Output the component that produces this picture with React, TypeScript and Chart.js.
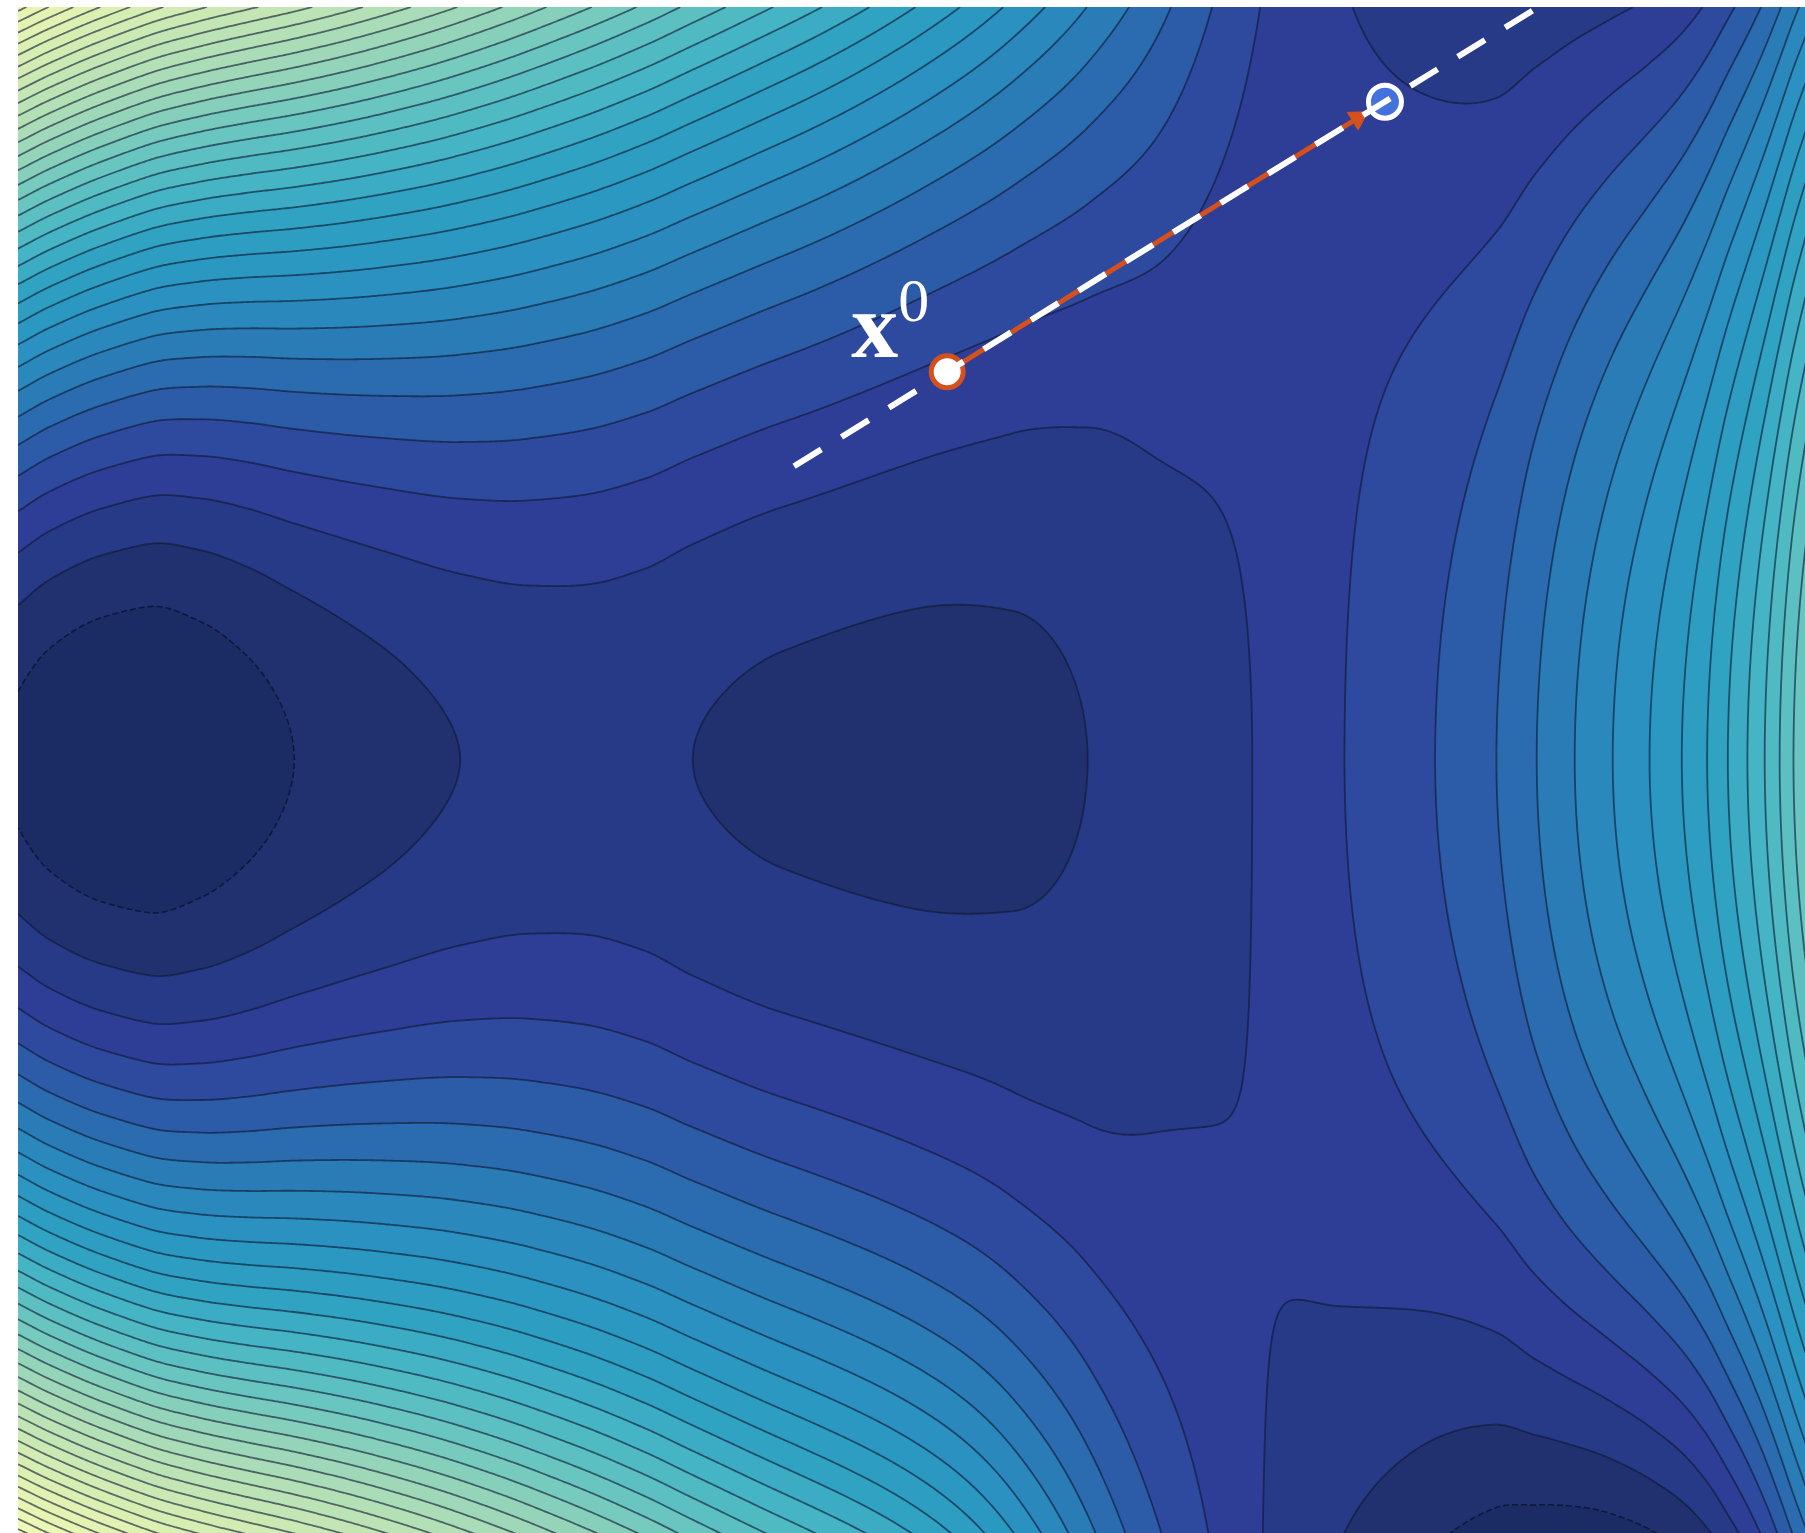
import { useEffect, useRef } from 'react';
import { Chart, registerables } from 'chart.js';

Chart.register(...registerables);

// ---------------- values ----------------
// plot coordinates are the picture's own x / y units (y grows downwards)
const X_MIN = 16;
const X_MAX = 1568;
const Y_MIN = 6;
const Y_MAX = 1332;
const VALLEY_Y = 660;
const DEPTH_UNIT = 400;

// surface level along the valley axis (y = 660)
const axisX = [16, 43, 90, 130, 174, 215, 256, 330, 400, 460, 510, 560, 602, 680, 800, 880, 945, 1010, 1088, 1160, 1250, 1300, 1335, 1368, 1401, 1433, 1461, 1483, 1501, 1518, 1533, 1546, 1558, 1568];
const axisLevel = [-1.24, -1.61, -1.93, -2.0, -1.76, -1.4, -1.0, -0.42, 0.0, 0.2, 0.25, 0.17, 0.0, -0.22, -0.33, -0.25, 0.0, 0.48, 1.0, 1.9, 3.05, 4.0, 5.0, 6.0, 7.0, 8.0, 9.0, 10.0, 11.0, 12.0, 13.0, 14.0, 15.0, 15.8];

// rise of the surface above the axis (upper half): quadratic and quartic weights
const upperX = [16, 135, 300, 500, 700, 850, 950, 1050, 1150, 1250, 1350, 1450, 1568];
const upperQuad = [11, 8.9, 7.0, 5.2, 3.8, 2.6, 1.8, 0.8, -0.2, -1.1, -2.2, -3.1, -3.95];
const upperQuart = [0.45, 0.62, 0.6, 0.45, 0.34, 0.27, 0.14, 0.03, 0.0, 0.05, 0.13, 0.15, 0.15];

// rise of the surface below the axis (lower half)
const lowerX = [16, 135, 300, 500, 700, 850, 950, 1000, 1050, 1100, 1150, 1215, 1300, 1390, 1450, 1500, 1568];
const lowerQuad = [11, 8.9, 7.0, 5.2, 3.8, 2.6, 1.45, 0.87, 0.42, -0.06, -0.55, -1.1, -2.0, -3.2, -3.85, -4.25, -4.45];
const lowerQuart = [0.45, 0.62, 0.6, 0.45, 0.34, 0.27, 0.12, 0.05, 0.01, 0.0, 0.0, 0.0, 0.04, 0.12, 0.18, 0.2, 0.2];

const contourLevels = [-3, -2, -1, 0, 1, 2, 3, 4, 5, 6, 7, 8, 9, 10, 11, 12, 13, 14, 15, 16, 17, 18, 19, 20, 21, 22, 23, 24, 25, 26, 27, 28, 29, 30, 31, 32, 33, 34, 35, 36, 37, 38, 39, 40];

const rampLevel = [-2, -1.5, -0.5, 0.5, 1.5, 2.5, 4, 6, 8, 10.5, 12, 13.5, 15, 18.5, 21, 25, 28, 30.5, 33];
const rampColor = ['#1a2a60', '#1b2b63', '#21316f', '#263a88', '#2e3d96', '#2d4a9f', '#2b64ac', '#2a84bb', '#2a95c1', '#30a3c3', '#40b1c4', '#50bac3', '#62c2c1', '#94d4b9', '#b0deb6', '#cfebb3', '#dff1b2', '#e8f5b2', '#f2f9bb'];

// search direction, step, points
const searchLineX = [690, 1336.5];
const searchLineY = [405, 6];
const stepX = [823, 1179.6];
const stepY = [323, 102.5];
const startX = [823];
const startY = [323];
const nextX = [1203.2];
const nextY = [88.3];
const arrowX = [1179.6];
const arrowY = [102.5];
const labelBase = 'x';
const labelSup = '0';

// ---------------- helpers ----------------
function pchip(xs: number[], ys: number[]) {
  const n = xs.length;
  const h: number[] = [];
  const del: number[] = [];
  for (let i = 0; i < n - 1; i++) {
    h.push(xs[i + 1] - xs[i]);
    del.push((ys[i + 1] - ys[i]) / h[i]);
  }
  const m: number[] = new Array(n).fill(0);
  m[0] = del[0];
  m[n - 1] = del[n - 2];
  for (let i = 1; i < n - 1; i++) {
    if (del[i - 1] * del[i] <= 0) m[i] = 0;
    else {
      const w1 = 2 * h[i] + h[i - 1];
      const w2 = h[i] + 2 * h[i - 1];
      m[i] = (w1 + w2) / (w1 / del[i - 1] + w2 / del[i]);
    }
  }
  return (x: number) => {
    if (x <= xs[0]) return ys[0] + m[0] * (x - xs[0]);
    if (x >= xs[n - 1]) return ys[n - 1] + m[n - 1] * (x - xs[n - 1]);
    let lo = 0;
    let hi = n - 1;
    while (hi - lo > 1) {
      const mid = (lo + hi) >> 1;
      if (xs[mid] <= x) lo = mid;
      else hi = mid;
    }
    const t = (x - xs[lo]) / h[lo];
    const t2 = t * t;
    const t3 = t2 * t;
    return (2 * t3 - 3 * t2 + 1) * ys[lo] + (t3 - 2 * t2 + t) * h[lo] * m[lo] + (-2 * t3 + 3 * t2) * ys[lo + 1] + (t3 - t2) * h[lo] * m[lo + 1];
  };
}

function naturalSpline(xs: number[], ys: number[]) {
  const n = xs.length;
  const h: number[] = [];
  for (let i = 0; i < n - 1; i++) h.push(xs[i + 1] - xs[i]);
  const l = new Array(n).fill(0);
  const mu = new Array(n).fill(0);
  const z = new Array(n).fill(0);
  const c = new Array(n).fill(0);
  const b = new Array(n).fill(0);
  const d = new Array(n).fill(0);
  l[0] = 1;
  for (let i = 1; i < n - 1; i++) {
    const alpha = (3 / h[i]) * (ys[i + 1] - ys[i]) - (3 / h[i - 1]) * (ys[i] - ys[i - 1]);
    l[i] = 2 * (xs[i + 1] - xs[i - 1]) - h[i - 1] * mu[i - 1];
    mu[i] = h[i] / l[i];
    z[i] = (alpha - h[i - 1] * z[i - 1]) / l[i];
  }
  for (let j = n - 2; j >= 0; j--) {
    c[j] = z[j] - mu[j] * c[j + 1];
    b[j] = (ys[j + 1] - ys[j]) / h[j] - (h[j] * (c[j + 1] + 2 * c[j])) / 3;
    d[j] = (c[j + 1] - c[j]) / (3 * h[j]);
  }
  return (x: number) => {
    let j = 0;
    if (x <= xs[0]) j = 0;
    else if (x >= xs[n - 1]) j = n - 2;
    else {
      let lo = 0;
      let hi = n - 1;
      while (hi - lo > 1) {
        const mid = (lo + hi) >> 1;
        if (xs[mid] <= x) lo = mid;
        else hi = mid;
      }
      j = lo;
    }
    const dx = x - xs[j];
    return ys[j] + b[j] * dx + c[j] * dx * dx + d[j] * dx * dx * dx;
  };
}

const axisF = pchip(axisX, axisLevel);
const upQF = naturalSpline(upperX, upperQuad);
const upQ4F = naturalSpline(upperX, upperQuart);
const loQF = naturalSpline(lowerX, lowerQuad);
const loQ4F = naturalSpline(lowerX, lowerQuart);

function hexRgb(h: string): number[] {
  return [parseInt(h.slice(1, 3), 16), parseInt(h.slice(3, 5), 16), parseInt(h.slice(5, 7), 16)];
}
const rampRgb = rampColor.map(hexRgb);
function ramp(v: number): number[] {
  if (v <= rampLevel[0]) return rampRgb[0];
  const n = rampLevel.length;
  if (v >= rampLevel[n - 1]) return rampRgb[n - 1];
  let i = 0;
  while (rampLevel[i + 1] < v) i++;
  const t = (v - rampLevel[i]) / (rampLevel[i + 1] - rampLevel[i]);
  return [0, 1, 2].map((k) => Math.round(rampRgb[i][k] + (rampRgb[i + 1][k] - rampRgb[i][k]) * t));
}

function chainSegments(seg: number[], keys: number[]): number[][] {
  const n = keys.length / 2;
  const map = new Map<number, number[]>();
  for (let s = 0; s < n; s++) {
    for (let e = 0; e < 2; e++) {
      const k = keys[2 * s + e];
      const a = map.get(k);
      if (a) a.push(s);
      else map.set(k, [s]);
    }
  }
  const used = new Uint8Array(n);
  const walk = (key: number, out: number[]) => {
    let k = key;
    for (;;) {
      const arr = map.get(k);
      if (!arr) return;
      let nxt = -1;
      for (const t of arr) if (!used[t]) { nxt = t; break; }
      if (nxt < 0) return;
      used[nxt] = 1;
      if (keys[2 * nxt] === k) {
        out.push(seg[4 * nxt + 2], seg[4 * nxt + 3]);
        k = keys[2 * nxt + 1];
      } else {
        out.push(seg[4 * nxt], seg[4 * nxt + 1]);
        k = keys[2 * nxt];
      }
    }
  };
  const lines: number[][] = [];
  for (let s = 0; s < n; s++) {
    if (used[s]) continue;
    used[s] = 1;
    const fwd = [seg[4 * s], seg[4 * s + 1], seg[4 * s + 2], seg[4 * s + 3]];
    walk(keys[2 * s + 1], fwd);
    const back: number[] = [];
    walk(keys[2 * s], back);
    const line: number[] = [];
    for (let i = back.length - 2; i >= 0; i -= 2) line.push(back[i], back[i + 1]);
    lines.push(line.concat(fwd));
  }
  return lines;
}

const contourPlugin = {
  id: 'contourField',
  beforeDatasetsDraw(chart: any) {
    const { ctx, chartArea, scales } = chart;
    const sx = scales.x;
    const sy = scales.y;
    const left = Math.round(chartArea.left);
    const top = Math.round(chartArea.top);
    const W = Math.round(chartArea.right) - left;
    const H = Math.round(chartArea.bottom) - top;

    const colAt = (px: number) => {
      const xv = sx.getValueForPixel(px);
      return [axisF(xv), upQF(xv), upQ4F(xv), loQF(xv), loQ4F(xv)];
    };
    const rowAt = (py: number) => (sy.getValueForPixel(py) - VALLEY_Y) / DEPTH_UNIT;

    // ---- filled bands ----
    const cB = new Float64Array(W), cUQ = new Float64Array(W), cUQ4 = new Float64Array(W), cLQ = new Float64Array(W), cLQ4 = new Float64Array(W);
    for (let c = 0; c < W; c++) {
      const v = colAt(left + c + 0.5);
      cB[c] = v[0]; cUQ[c] = v[1]; cUQ4[c] = v[2]; cLQ[c] = v[3]; cLQ4[c] = v[4];
    }
    const lv = contourLevels;
    const L0 = lv[0];
    const lstep = lv[1] - lv[0];
    const nb = lv.length + 1;
    const pal: number[][] = [];
    for (let b = 0; b < nb; b++) {
      const mid = b === 0 ? lv[0] - 0.5 : b === nb - 1 ? lv[lv.length - 1] + 0.5 : (lv[b - 1] + lv[b]) / 2;
      pal.push(ramp(mid));
    }
    const img = ctx.createImageData(W, H);
    const data = img.data;
    for (let r = 0; r < H; r++) {
      const Y = rowAt(top + r + 0.5);
      const Y2 = Y * Y;
      const Y4 = Y2 * Y2;
      const up = Y < 0;
      let idx = r * W * 4;
      for (let c = 0; c < W; c++) {
        const f = cB[c] + (up ? cUQ[c] * Y2 + cUQ4[c] * Y4 : cLQ[c] * Y2 + cLQ4[c] * Y4);
        let b = Math.floor((f - L0) / lstep) + 1;
        if (b < 0) b = 0;
        if (b > nb - 1) b = nb - 1;
        const p = pal[b];
        data[idx] = p[0]; data[idx + 1] = p[1]; data[idx + 2] = p[2]; data[idx + 3] = 255;
        idx += 4;
      }
    }
    ctx.putImageData(img, left, top);

    // ---- contour lines (marching squares) ----
    const G = 2;
    const nx = Math.floor(W / G) + 2;
    const ny = Math.floor(H / G) + 2;
    const gc: number[][] = [];
    for (let i = 0; i < nx; i++) gc.push(colAt(left + i * G));
    const g = new Float64Array(nx * ny);
    for (let j = 0; j < ny; j++) {
      const Y = rowAt(top + j * G);
      const Y2 = Y * Y;
      const Y4 = Y2 * Y2;
      const up = Y < 0;
      for (let i = 0; i < nx; i++) {
        const v = gc[i];
        g[j * nx + i] = v[0] + (up ? v[1] * Y2 + v[2] * Y4 : v[3] * Y2 + v[4] * Y4);
      }
    }
    const segs: number[][] = lv.map(() => []);
    const keys: number[][] = lv.map(() => []);
    for (let j = 0; j < ny - 1; j++) {
      for (let i = 0; i < nx - 1; i++) {
        const ia = j * nx + i;
        const va = g[ia], vb = g[ia + 1], vc = g[ia + nx + 1], vd = g[ia + nx];
        const mn = Math.min(va, vb, vc, vd);
        const mx = Math.max(va, vb, vc, vd);
        let li = Math.floor((mn - L0) / lstep) + 1;
        if (li < 0) li = 0;
        for (; li < lv.length && lv[li] <= mx; li++) {
          const L = lv[li];
          if (L <= mn) continue;
          const cs = (va >= L ? 8 : 0) | (vb >= L ? 4 : 0) | (vc >= L ? 2 : 0) | (vd >= L ? 1 : 0);
          let pairs: number[] = [];
          switch (cs) {
            case 1: case 14: pairs = [3, 2]; break;
            case 2: case 13: pairs = [2, 1]; break;
            case 3: case 12: pairs = [3, 1]; break;
            case 4: case 11: pairs = [0, 1]; break;
            case 6: case 9: pairs = [0, 2]; break;
            case 7: case 8: pairs = [0, 3]; break;
            case 5: {
              const cen = (va + vb + vc + vd) / 4;
              pairs = cen >= L ? [0, 3, 1, 2] : [0, 1, 3, 2];
              break;
            }
            case 10: {
              const cen = (va + vb + vc + vd) / 4;
              pairs = cen >= L ? [0, 1, 3, 2] : [0, 3, 1, 2];
              break;
            }
            default: pairs = [];
          }
          for (let p = 0; p < pairs.length; p += 2) {
            for (let q = 0; q < 2; q++) {
              const e = pairs[p + q];
              let gx = 0, gy = 0, key = 0;
              if (e === 0) { gx = i + (L - va) / (vb - va); gy = j; key = ia * 2; }
              else if (e === 1) { gx = i + 1; gy = j + (L - vb) / (vc - vb); key = (ia + 1) * 2 + 1; }
              else if (e === 2) { gx = i + (L - vd) / (vc - vd); gy = j + 1; key = (ia + nx) * 2; }
              else { gx = i; gy = j + (L - va) / (vd - va); key = ia * 2 + 1; }
              segs[li].push(left + gx * G, top + gy * G);
              keys[li].push(key);
            }
          }
        }
      }
    }
    ctx.save();
    ctx.beginPath();
    ctx.rect(chartArea.left, chartArea.top, chartArea.right - chartArea.left, chartArea.bottom - chartArea.top);
    ctx.clip();
    ctx.lineJoin = 'round';
    ctx.lineCap = 'butt';
    for (let li = 0; li < lv.length; li++) {
      if (!keys[li].length) continue;
      const lines = chainSegments(segs[li], keys[li]);
      ctx.beginPath();
      for (const ln of lines) {
        ctx.moveTo(ln[0], ln[1]);
        for (let k = 2; k < ln.length; k += 2) ctx.lineTo(ln[k], ln[k + 1]);
      }
      if (lv[li] < 0) {
        ctx.setLineDash([6, 3]);
        ctx.lineWidth = 1.5;
        ctx.strokeStyle = 'rgba(10,18,45,0.8)';
      } else {
        ctx.setLineDash([]);
        ctx.lineWidth = 1.8;
        ctx.strokeStyle = 'rgba(14,24,50,0.62)';
      }
      ctx.stroke();
    }
    ctx.restore();
  },
  afterDatasetsDraw(chart: any) {
    const { ctx, scales } = chart;
    const px = scales.x.getPixelForValue(startX[0]);
    const py = scales.y.getPixelForValue(startY[0]);
    ctx.save();
    ctx.fillStyle = '#ffffff';
    ctx.textAlign = 'left';
    ctx.textBaseline = 'alphabetic';
    ctx.font = 'bold 94px "Liberation Serif", "Times New Roman", serif';
    ctx.fillText(labelBase, px - 96, py - 15);
    ctx.font = '62px "Liberation Serif", "Times New Roman", serif';
    ctx.fillText(labelSup, px - 49, py - 51);
    ctx.restore();
  },
};

const pts = (xs: number[], ys: number[]) => xs.map((x, i) => ({ x, y: ys[i] }));

export default function App() {
  const ref = useRef<HTMLCanvasElement | null>(null);
  useEffect(() => {
    if (!ref.current) return;
    const orange = '#d4501c';
    const chart = new Chart(ref.current, {
      type: 'scatter',
      data: {
        datasets: [
          {
            label: 'search line',
            data: pts(searchLineX, searchLineY),
            showLine: true,
            borderColor: '#ffffff',
            borderWidth: 6,
            borderDash: [32, 23.7],
            borderCapStyle: 'butt',
            pointRadius: 0,
            order: 0,
          } as any,
          {
            label: 'next iterate',
            data: pts(nextX, nextY),
            pointRadius: 16.5,
            pointBackgroundColor: '#4571dc',
            pointBorderColor: '#ffffff',
            pointBorderWidth: 5,
            order: 1,
          } as any,
          {
            label: 'x0',
            data: pts(startX, startY),
            pointRadius: 16,
            pointBackgroundColor: '#ffffff',
            pointBorderColor: orange,
            pointBorderWidth: 5,
            order: 2,
          } as any,
          {
            label: 'arrow head',
            data: pts(arrowX, arrowY),
            pointStyle: 'triangle',
            pointRotation: 58.4,
            rotation: 58.4,
            pointRadius: 12,
            pointBackgroundColor: orange,
            pointBorderColor: orange,
            pointBorderWidth: 1,
            order: 3,
          } as any,
          {
            label: 'step',
            data: pts(stepX, stepY),
            showLine: true,
            borderColor: orange,
            borderWidth: 5,
            pointRadius: 0,
            order: 4,
          } as any,
        ],
      },
      options: {
        responsive: false,
        animation: false,
        devicePixelRatio: 1,
        events: [],
        layout: { autoPadding: false, padding: { left: 18, top: 7, right: 0, bottom: 0 } },
        plugins: {
          legend: { display: false },
          tooltip: { enabled: false },
          title: { display: false },
        },
        scales: {
          x: { type: 'linear', min: X_MIN, max: X_MAX, display: false },
          y: { type: 'linear', min: Y_MIN, max: Y_MAX, reverse: true, display: false },
        },
      } as any,
      plugins: [contourPlugin],
    });
    return () => chart.destroy();
  }, []);
  return (
    <div style={{ position: 'absolute', left: 0, top: 0, width: 1805, height: 1533, background: '#ffffff' }}>
      <canvas ref={ref} width={1805} height={1533} style={{ display: 'block' }} />
    </div>
  );
}
